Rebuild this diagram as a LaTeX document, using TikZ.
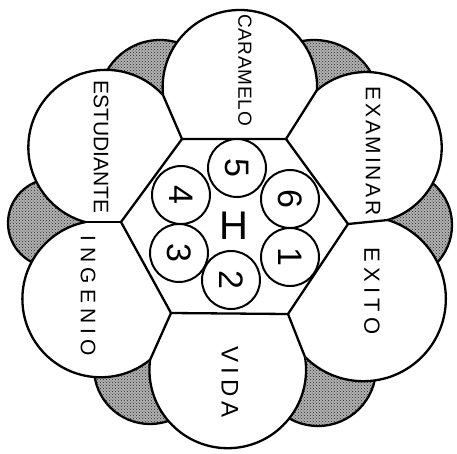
\documentclass[tikz,border=0pt]{standalone}
\usepackage{fontspec}
\setmainfont{Liberation Sans}
\usetikzlibrary{calc,patterns}
% #1 inner vertex, #2 cusp, #3 outer point, #4 next cusp, #5 next inner vertex
\newcommand{\drawbubble}[5]{%
  \coordinate (bm1) at ($(#2)!.5!(#3)$);
  \coordinate (br1) at ($(bm1)!1!90:(#3)$);
  \coordinate (bm2) at ($(#3)!.5!(#4)$);
  \coordinate (br2) at ($(bm2)!1!90:(#4)$);
  \coordinate (bc) at (intersection of bm1--br1 and bm2--br2);
  \begin{scope}
    \clip (#1) -- ($(#1)!6!(#2)$) -- ($(#5)!6!(#4)$) -- (#5) -- cycle;
    \fill[white] let \p1 = ($(#2)-(bc)$), \n1 = {veclen(\x1,\y1)} in (bc) circle[radius=\n1];
  \end{scope}
  \fill[white] (#1) -- (#2) -- (#4) -- (#5) -- cycle;
  \begin{scope}
    \clip (#2) -- ($(#1)!6!(#2)$) -- ($(#5)!6!(#4)$) -- (#4) -- cycle;
    \draw[bubble] let \p1 = ($(#2)-(bc)$), \n1 = {veclen(\x1,\y1)} in (bc) circle[radius=\n1];
  \end{scope}}
\begin{document}
\begin{tikzpicture}[x=1pt,y=-1pt,line join=round,
  bubble/.style={draw=black,line width=2.3pt},
  seam/.style={draw=black,line width=2.3pt,line cap=round},
  hexa/.style={draw=black,line width=2.3pt,fill=white},
  blob/.style={draw=black,line width=2.3pt,fill=black!30},
  stipple/.style={pattern=crosshatch dots,pattern color=black!85},
  smallc/.style={circle,draw=black,line width=2pt,fill=white,minimum size=58pt,inner sep=0pt,font=\fontsize{34}{34}\selectfont,rotate=-90},
  word/.style={rotate=-90,inner sep=0pt,font=\fontsize{21}{21}\selectfont},
]
\useasboundingbox (0,0) rectangle (457,453);
% inner vertices of the hexagon
\coordinate (VL) at (121,222);
\coordinate (VUL) at (182,139);
\coordinate (VUR) at (286,139);
\coordinate (VR) at (348,224);
\coordinate (VLR) at (288,314);
\coordinate (VLL) at (171,313);
% outer cusps
\coordinate (KL) at (85,222);
\coordinate (KUL) at (163,95);
\coordinate (KUR) at (317,90);
\coordinate (KR) at (388,220);
\coordinate (KLR) at (305,357);
\coordinate (KLL) at (150,360);
% outer points of bubbles
\coordinate (OUL) at (46,98);
\coordinate (OT) at (240,10);
\coordinate (OUR) at (434,114);
\coordinate (OLR) at (437,336);
\coordinate (OB) at (233,448);
\coordinate (OLL) at (30,333);
% shaded blobs
\foreach \cx/\cy/\r in {160/101/61, 314/106/66, 397/225/55, 318/368/58, 150/368/56, 52/223/44}{
  \filldraw[blob] (\cx,\cy) circle[radius=\r];
  \path[stipple] (\cx,\cy) circle[radius=\r];
}
% bubbles
\drawbubble{VL}{KL}{OUL}{KUL}{VUL}
\drawbubble{VUL}{KUL}{OT}{KUR}{VUR}
\drawbubble{VUR}{KUR}{OUR}{KR}{VR}
\drawbubble{VR}{KR}{OLR}{KLR}{VLR}
\drawbubble{VLR}{KLR}{OB}{KLL}{VLL}
\drawbubble{VLL}{KLL}{OLL}{KL}{VL}
% seams
\draw[seam] (VL) -- (KL);
\draw[seam] (VUL) -- (KUL);
\draw[seam] (VUR) -- (KUR);
\draw[seam] (VR) -- (KR);
\draw[seam] (VLR) -- (KLR);
\draw[seam] (VLL) -- (KLL);
% hexagon
\filldraw[hexa] (VL) -- (VUL) -- (VUR) -- (VR) -- (VLR) -- (VLL) -- cycle;
% small circles
\node[smallc] (c5) at (237,168) {5};
\node[smallc] (c6) at (290,199) {6};
\node[smallc] (c1) at (290,257) {1};
\node[smallc] (c2) at (231,280) {2};
\node[smallc] (c3) at (179,253) {3};
\node[smallc] (c4) at (181,195) {4};
\node[inner sep=0pt,font=\fontsize{40}{40}\selectfont] (hc) at (234,226) {H};
% words
\node[word,font=\fontsize{19}{19}\selectfont] (w1) at (245,70) {\addfontfeature{LetterSpace=4}CARAMELO};
\node[word] (w2) at (101,147) {\addfontfeature{LetterSpace=0}ESTUDIANTE};
\node[word] (w3) at (88,296) {\addfontfeature{LetterSpace=25}INGENIO};
\node[word] (w4) at (373,151) {\addfontfeature{LetterSpace=13}EXAMINAR};
\node[word,font=\fontsize{22}{22}\selectfont] (w5) at (372,291) {\addfontfeature{LetterSpace=24}EXITO};
\node[word,font=\fontsize{24}{24}\selectfont] (w6) at (230,382) {\addfontfeature{LetterSpace=22}VIDA};
\end{tikzpicture}
\end{document}
